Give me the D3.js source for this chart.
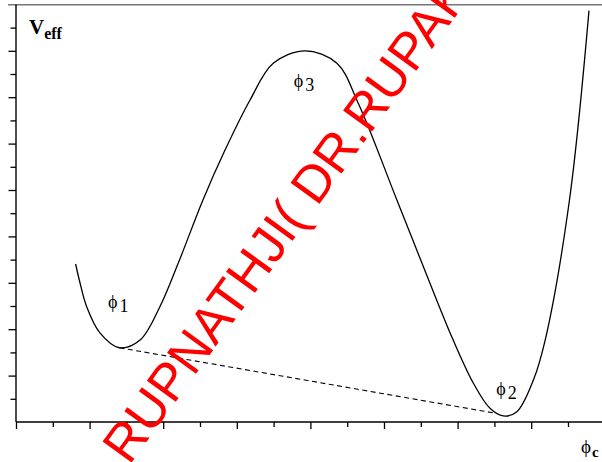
<!DOCTYPE html>
<html><head><meta charset="utf-8">
<script src="https://cdn.jsdelivr.net/npm/d3@7"></script>
<style>html,body{margin:0;padding:0;background:#fff;overflow:hidden}</style>
</head><body>
<svg id="c" width="602" height="462"></svg>
<script>
// Curve V_eff(phi_c) (axis units: one tick = 1)
const phiValues = [1.62, 1.74, 1.92, 2.28, 2.81, 3.37, 3.91, 4.41, 5.08, 5.68, 6.36, 6.99, 7.85, 8.72, 9.30, 10.35, 11.43, 11.88, 12.43, 12.88, 13.24, 13.61, 14.06, 14.38, 15.04, 15.57];
const veffValues = [6.81, 5.99, 4.97, 3.84, 3.20, 3.53, 4.97, 6.85, 9.57, 11.72, 13.88, 15.46, 16.00, 15.46, 13.74, 9.57, 5.26, 3.53, 1.67, 0.59, 0.26, 0.44, 1.81, 3.53, 9.57, 17.73];
// dashed tangent line between the two minima
const dashPhi = [2.81, 13.06];
const dashVeff = [3.20, 0.37];
// labels
const labelTexts = ["1", "3", "2"];
const labelPhi = [2.50, 7.55, 13.05];
const labelVeff = [4.92, 14.45, 1.15];
const xTicks = d3.range(0, 17);
const yTicks = d3.range(0, 19);
const watermark = "RUPNATHJI( DR.RUPAK NATH )";

const svg = d3.select("#c");
const x = d3.scaleLinear().domain([0, 16]).range([16, 16 + 16 * 36.8]);
const y = d3.scaleLinear().domain([0, 18]).range([422, 4.4]);

// top frame line
svg.append("line").attr("x1", 8).attr("x2", 602).attr("y1", 4.7).attr("y2", 4.7)
  .attr("stroke", "#777").attr("stroke-width", 1.6);

// axes
const gx = svg.append("g").attr("transform", `translate(0,${y(0)})`)
  .call(d3.axisBottom(x).tickValues(xTicks).tickFormat("").tickSize(8).tickSizeOuter(0));
gx.select(".domain").attr("d", `M${x(0)},0H602`).attr("stroke", "#000").attr("stroke-width", 1.4);
gx.selectAll(".tick line").attr("y2", (d, i) => i % 2 === 0 ? 7 : 5).attr("stroke", "#000").attr("stroke-width", 1.3);

const gy = svg.append("g").attr("transform", `translate(${x(0)},0)`)
  .call(d3.axisLeft(y).tickValues(yTicks.filter(d => d > 0 && d < 18)).tickFormat("").tickSize(7).tickSizeOuter(0));
gy.select(".domain").attr("d", `M0,${y(18)}V${y(0)}`).attr("stroke", "#000").attr("stroke-width", 1.4);
gy.selectAll(".tick line").attr("x2", d => d % 2 === 0 ? -7.5 : -5.5).attr("stroke", "#000").attr("stroke-width", 1.3);

// curve
const pts = phiValues.map((p, i) => [p, veffValues[i]]);
svg.append("path").datum(pts)
  .attr("d", d3.line().x(d => x(d[0])).y(d => y(d[1])).curve(d3.curveCatmullRom.alpha(0.5)))
  .attr("fill", "none").attr("stroke", "#000").attr("stroke-width", 1.3);

// dashed line
svg.append("path").datum(dashPhi.map((p, i) => [p, dashVeff[i]]))
  .attr("d", d3.line().x(d => x(d[0])).y(d => y(d[1])))
  .attr("fill", "none").attr("stroke", "#000").attr("stroke-width", 1.1).attr("stroke-dasharray", "5,3.5");

// phi labels
labelTexts.forEach((t, i) => {
  const tx = svg.append("text").attr("x", x(labelPhi[i])).attr("y", y(labelVeff[i]))
    .attr("font-family", "Liberation Serif, Times New Roman, serif").attr("font-size", 18).attr("fill", "#000");
  tx.append("tspan").text("\u03D5");
  tx.append("tspan").attr("dx", 2).attr("dy", 4).text(t);
});

// axis titles
const vt = svg.append("text").attr("x", 29).attr("y", 34)
  .attr("font-family", "Liberation Serif, Times New Roman, serif").attr("font-weight", "bold").attr("fill", "#000");
vt.append("tspan").attr("font-size", 21).text("V");
vt.append("tspan").attr("font-size", 16).attr("dy", 5).text("eff");

const pt = svg.append("text").attr("x", 581).attr("y", 453)
  .attr("font-family", "Liberation Serif, Times New Roman, serif").attr("fill", "#000");
pt.append("tspan").attr("font-size", 19).text("\u03D5");
pt.append("tspan").attr("font-size", 15).attr("font-weight", "bold").attr("dx", 1).attr("dy", 4).text("c");

// watermark
svg.append("text").attr("transform", "translate(129,466) rotate(-54)")
  .attr("font-family", "Liberation Sans, Arial, sans-serif").attr("font-size", 52)
  .attr("fill", "#ff0000").text(watermark);
</script>
</body></html>
